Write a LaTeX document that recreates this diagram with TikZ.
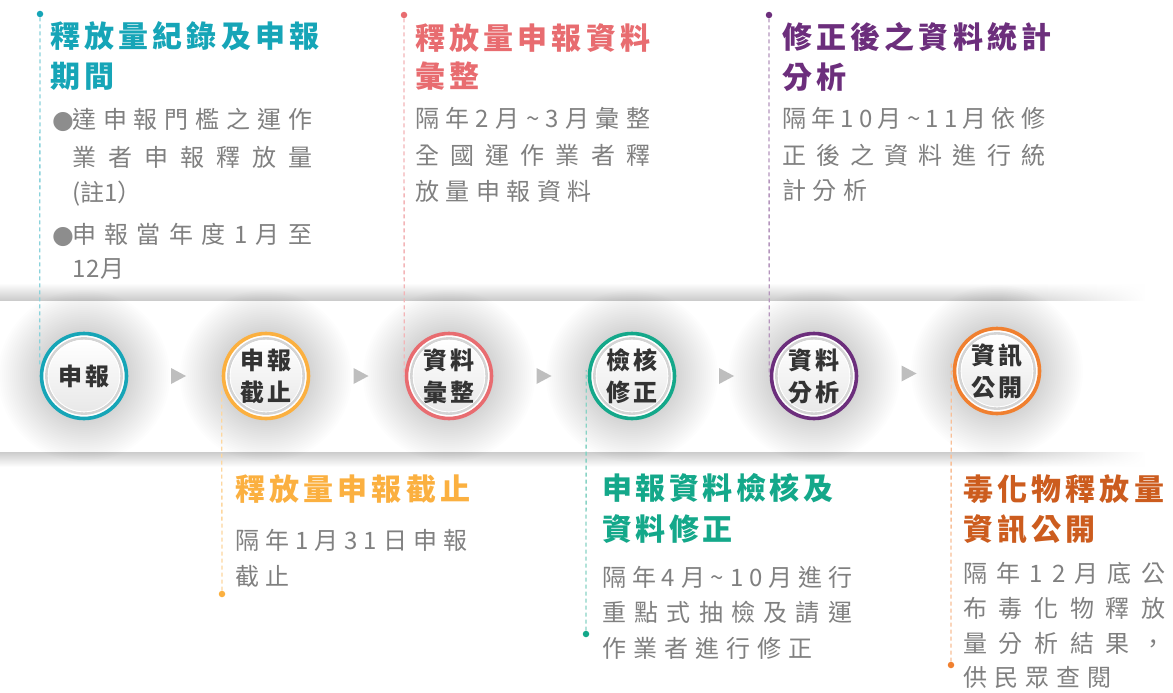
\documentclass[tikz,border=0pt]{standalone}
\usepackage{fontspec}
\usetikzlibrary{calc,fadings}
\newfontfamily\cjk{Noto Sans CJK TC}
\newfontfamily\symf{DejaVu Sans}
\definecolor{cteal}{RGB}{22,165,183}
\definecolor{cpink}{RGB}{232,108,112}
\definecolor{cpurple}{RGB}{108,46,124}
\definecolor{cyellow}{RGB}{251,176,64}
\definecolor{cgreen}{RGB}{20,168,138}
\definecolor{corange}{RGB}{240,128,48}
\definecolor{ctorange}{RGB}{204,92,30}
\definecolor{cbody}{RGB}{128,128,128}
\definecolor{cdark}{RGB}{51,51,51}
\definecolor{ctri}{RGB}{190,190,190}
\tikzfading[name=fadeR, left color=transparent!0, right color=transparent!100]
\newcommand\tsp[2]{\def\tspgap{#1}\tspx#2\relax\unkern}
\def\tspx#1{\ifx\relax#1\else#1\kern\tspgap\expandafter\tspx\fi}
\newcommand\tjust[2]{\hbox to #1{\tjx#2\relax\unskip}}
\def\tjx#1{\ifx\relax#1\else#1\hfil\expandafter\tjx\fi}
\def\tld{\char"7E\relax}
\newcommand\bul{{\color{cbody!90}\symf\fontsize{25pt}{25pt}\selectfont ●}}
\begin{document}
\begin{tikzpicture}[x=1pt,y=-1pt,
  stage/.style={circle, minimum size=85pt, inner sep=0pt, draw=#1, line width=3.6pt, fill=white,
    text=cdark, align=center, font=\cjk\bfseries\fontsize{24pt}{32pt}\selectfont,
    path picture={
      \draw[black!17, line width=2.6pt] (path picture bounding box.center) circle (37.6pt);
      \shade[top color=white, bottom color=black!9] (path picture bounding box.center) circle (36pt);
      \draw[white, line width=0.8pt] (path picture bounding box.center) circle (35.8pt);
    }},
  ttl/.style={anchor=base west, inner sep=0pt, align=left, text=#1, font=\cjk\bfseries\fontsize{30pt}{39pt}\selectfont},
  body/.style={anchor=base west, inner sep=0pt, align=left, text=cbody, font=\cjk\fontsize{24pt}{36pt}\selectfont},
  dline/.style={draw=#1!50, dash pattern=on 4pt off 3pt, line width=1.3pt},
  dotn/.style={circle, fill=#1, inner sep=0pt, minimum size=6.5pt},
  tri/.style={fill=ctri}
]
\useasboundingbox (0,0) rectangle (1173,693);
\fill[white] (0,0) rectangle (1173,693);
% band shadows
\shade[top color=white, bottom color=black!20] (0,283) rectangle (1000,300);
\shade[top color=white, bottom color=black!20, path fading=fadeR] (1000,283) rectangle (1145,300);
\shade[top color=black!20, bottom color=white] (0,452) rectangle (1000,467);
\shade[top color=black!20, bottom color=white, path fading=fadeR] (1000,452) rectangle (1145,467);
% centres
\coordinate (p1) at (84,376);
\coordinate (p2) at (266,376);
\coordinate (p3) at (449,376);
\coordinate (p4) at (632,376);
\coordinate (p5) at (814,376);
\coordinate (p6) at (997,371);
% glows
\foreach \p in {p1,p2,p3,p4,p5,p6}{
  \foreach \r in {46,48,...,86}{\fill[black, opacity=0.008] (\p) circle (\r pt);}
}
% stages
\node[stage=cteal] (c1) at (p1) {申\kern3pt 報};
\node[stage=cyellow] (c2) at (p2) {申\kern3pt 報\\截\kern3pt 止};
\node[stage=cpink] (c3) at (p3) {資\kern3pt 料\\彙\kern3pt 整};
\node[stage=cgreen] (c4) at (p4) {檢\kern3pt 核\\修\kern3pt 正};
\node[stage=cpurple] (c5) at (p5) {資\kern3pt 料\\分\kern3pt 析};
\node[stage=corange] (c6) at (p6) {資\kern3pt 訊\\公\kern3pt 開};
% arrow markers
\foreach \a/\b in {c1/c2,c2/c3,c3/c4,c4/c5,c5/c6}{
  \fill[tri] ($(\a)!0.5!(\b)+(3.5,0)$) ++(-7.5,-8) -- ++(15,8) -- ++(-15,8) -- cycle;
}
% dots and dashed leaders
\node[dotn=cteal] (d1) at (40,14) {};
\node[dotn=cyellow] (d2) at (222,594) {};
\node[dotn=cpink] (d3) at (404,15) {};
\node[dotn=cgreen] (d4) at (586,634) {};
\node[dotn=cpurple] (d5) at (769,15) {};
\node[dotn=corange] (d6) at (951,665) {};
\draw[dline=cteal] (d1) -- ($(c1.west)+(0,-9)$);
\draw[dline=cyellow] (d2) -- ($(c2.west)+(0,11)$);
\draw[dline=cpink] (d3) -- ($(c3.west)+(-0.5,1)$);
\draw[dline=cgreen] (d4) -- ($(c4.west)+(-1.5,-6)$);
\draw[dline=cpurple] (d5) -- ($(c5.west)+(-0.5,-1)$);
\draw[dline=corange] (d6) -- ($(c6.west)+(-1.5,-9)$);
% titles (anchor = baseline of last line)
\node[ttl=cteal] (t1) at (50,87.4) {\tsp{4.2pt}{釋放量紀錄及申報}\\[1pt]\tsp{4.2pt}{期間}};
\node[ttl=cpink] (t2) at (415,87.4) {\tsp{4.2pt}{釋放量申報資料}\\[-1pt]\tsp{4.2pt}{彙整}};
\node[ttl=cpurple] (t3) at (782,88.4) {\tsp{4.2pt}{修正後之資料統計}\\[1pt]\tsp{4.2pt}{分析}};
\node[ttl=cyellow] (t4) at (235,500) {\tsp{4.2pt}{釋放量申報截止}};
\node[ttl=cgreen] (t5) at (602,540.4) {\tsp{3.5pt}{申報資料檢核及}\\[2pt]\tsp{3.5pt}{資料修正}};
\node[ttl=ctorange] (t6) at (963,540.4) {\tsp{4.2pt}{毒化物釋放量}\\[1pt]\tsp{4.2pt}{資訊公開}};
% bodies
\node[body] (b1) at (52,277) {\makebox[20pt][l]{\bul}\tjust{240pt}{達申報門檻之運作}\\[2pt]
  \hbox to 20pt{\hfil}\tjust{240pt}{業者申報釋放量}\\[-1pt]
  \hbox to 20pt{\hfil}(註1）\\[6pt]
  \makebox[20pt][l]{\bul}\tjust{240pt}{申報當年度1月至}\\[-2pt]
  \hbox to 20pt{\hfil}\tsp{1pt}{12月}};
\node[body] (b2) at (415,200) {\tjust{235pt}{隔年2月\tld3月彙整}\\[0.5pt]
  \tjust{235pt}{全國運作業者釋}\\
  \tsp{6.5pt}{放量申報資料}};
\node[body] (b3) at (782,199) {\tjust{263pt}{隔年10月\tld11月依修}\\[0.5pt]
  \tjust{263pt}{正後之資料進行統}\\[-1pt]
  \tsp{6.5pt}{計分析}};
\node[body] (b4) at (235,585) {\tjust{232pt}{隔年1月31日申報}\\
  \tsp{6.5pt}{截止}};
\node[body] (b5) at (602,657) {\tjust{250pt}{隔年4月\tld10月進行}\\[-1pt]
  \tjust{250pt}{重點式抽檢及請運}\\
  \tsp{7pt}{作業者進行修正}};
\node[body] (b6) at (963,686) {\tjust{202pt}{隔年12月底公}\\[-1pt]
  \tjust{202pt}{布毒化物釋放}\\[-1pt]
  \tjust{202pt}{量分析結果，}\\[-2pt]
  \tsp{7pt}{供民眾查閱}};
\end{tikzpicture}
\end{document}
